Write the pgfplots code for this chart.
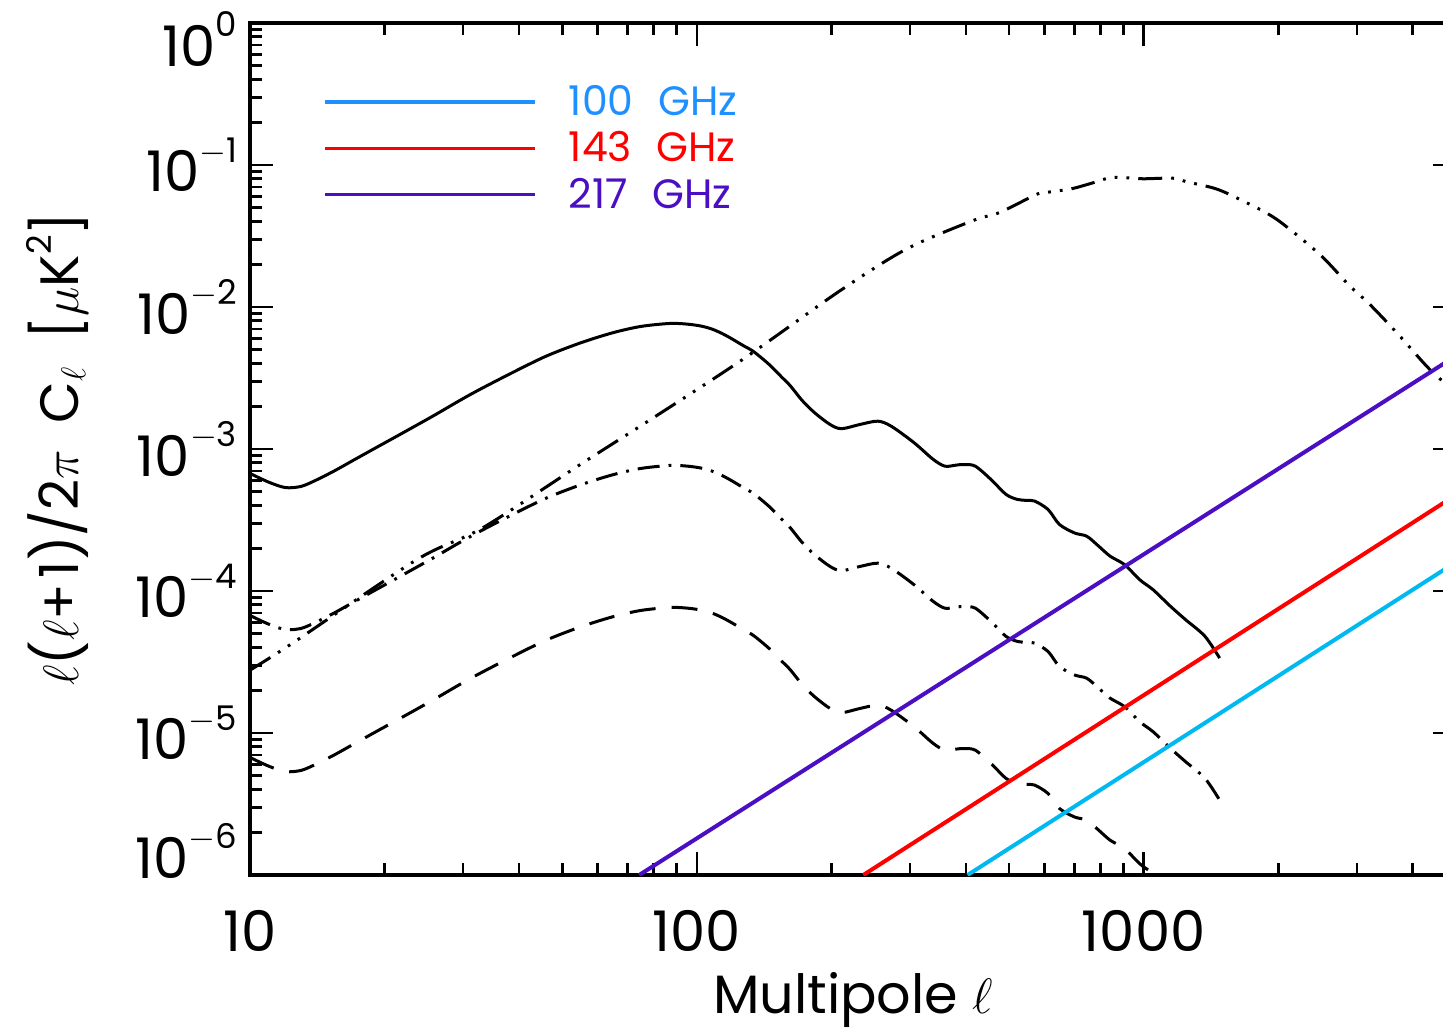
\documentclass[border=0pt]{standalone}
\usepackage{pgfplots}
\pgfplotsset{compat=1.18}
\usepackage{fontspec}
\setmainfont{Poppins}

\definecolor{c100}{RGB}{30,144,255}
\definecolor{c100line}{RGB}{0,185,240}
\definecolor{c143}{RGB}{255,0,0}
\definecolor{c217}{RGB}{75,15,195}

% y tick label: 10^{e}, set in the text font
\newcommand{\ylab}[1]{%
  \pgfmathparse{round(#1)}\pgfmathtruncatemacro\e{\pgfmathresult}%
  \def\body{10\raisebox{0.52em}{\fontsize{17}{17}\selectfont\ifnum\e<0 $-$\number-\e\else\e\fi}}%
  \ifnum\e=0 \raisebox{-8pt}[\height][\depth]{\body}%
  \else\ifnum\e=-6 \raisebox{12pt}[\height][\depth]{\body}%
  \else\body\fi\fi}

\begin{document}
\begin{tikzpicture}
\begin{axis}[
  scale only axis, width=603pt, height=426pt,
  xmode=log, ymode=log, log basis x=10, log basis y=10,
  xmin=10, xmax=5000, ymin=1e-6, ymax=1,
  axis line style={line width=1.8pt},
  every tick/.style={black, line width=1.3pt},
  major tick length=11.5pt, minor tick length=6pt,
  tick align=inside,
  xticklabels={10,100,1000},
  yticklabel={\ylab{\tick}},
  tick label style={font=\fontsize{28}{32}\selectfont},
  xticklabel style={yshift=-14pt},
  yticklabel style={xshift=-3pt},
  xlabel={Multipole $\ell$},
  ylabel={$\ell$($\ell$+\hspace{0.1em}1)/2$\pi$\hspace{0.5em}C$_{\ell}$\hspace{0.5em}[$\mu$K\raisebox{0.5em}{\fontsize{17}{17}\selectfont 2}]},
  label style={font=\fontsize{27}{32}\selectfont},
  xlabel style={at={(axis description cs:0.5,-0.163)}, anchor=base},
  ylabel style={at={(axis description cs:-0.16,0.5)}, anchor=center},
  legend style={at={(axis description cs:0.0605,0.927)}, anchor=north west,
    draw=none, fill=none, inner sep=0pt, row sep=6.5pt, column sep=16pt,
    font=\fontsize{20.5}{24}\selectfont, nodes={inner sep=0pt}},
  legend cell align=left,
  legend image code/.code={\draw[#1] (0pt,0pt) -- (105pt,0pt);},
]

% legend entries (colours as in the key)
\addlegendimage{c100, line width=1.8pt}
\addlegendentry{\textcolor{c100}{100\hspace{0.6em}GHz}}
\addlegendimage{c143, line width=1.8pt}
\addlegendentry{\textcolor{c143}{143\hspace{0.6em}GHz}}
\addlegendimage{c217, line width=1.8pt}
\addlegendentry{\textcolor{c217}{217\hspace{0.6em}GHz}}

% solid spectrum
\addplot[black, line width=1.5pt, smooth, forget plot] table {
x y
10 6.73e-4
11 5.85e-4
12 5.35e-4
13 5.45e-4
14 6.0e-4
15.4 6.98e-4
17 8.3e-4
18.2 9.35e-4
19.5 1.055e-3
21.7 1.27e-3
25.7 1.71e-3
29.5 2.20e-3
32.7 2.63e-3
39 3.5e-3
46.1 4.52e-3
55 5.6e-3
65 6.6e-3
75 7.3e-3
87 7.66e-3
95 7.58e-3
102 7.35e-3
108 7.0e-3
114 6.5e-3
120 5.95e-3
127 5.35e-3
134 4.85e-3
145 3.95e-3
155 3.2e-3
162 2.78e-3
172 2.2e-3
183.5 1.80e-3
198.6 1.49e-3
210.6 1.39e-3
232 1.49e-3
254 1.57e-3
272 1.45e-3
306 1.11e-3
338 8.45e-4
359 7.57e-4
380 7.7e-4
396 7.78e-4
420 7.57e-4
455 6.11e-4
492 4.79e-4
521 4.42e-4
545 4.35e-4
570 4.30e-4
611 3.75e-4
648 2.94e-4
701 2.56e-4
746 2.43e-4
793 2.07e-4
841 1.76e-4
907 1.53e-4
980 1.20e-4
1050 1.02e-4
1148 7.8e-5
1241 6.28e-5
1371 4.8e-5
1479 3.37e-5
};

% dash-dot: one tenth
\addplot[black, line width=1.5pt, smooth, forget plot,
  dash pattern=on 11pt off 4.5pt on 1.4pt off 4.5pt] table {
x y
10 6.73e-5
11 5.85e-5
12 5.35e-5
13 5.45e-5
14 6.0e-5
15.4 6.98e-5
17 8.3e-5
18.2 9.35e-5
19.5 1.055e-4
21.7 1.27e-4
25.7 1.71e-4
29.5 2.20e-4
32.7 2.63e-4
39 3.5e-4
46.1 4.52e-4
55 5.6e-4
65 6.6e-4
75 7.3e-4
87 7.66e-4
95 7.58e-4
102 7.35e-4
108 7.0e-4
114 6.5e-4
120 5.95e-4
127 5.35e-4
134 4.85e-4
145 3.95e-4
155 3.2e-4
162 2.78e-4
172 2.2e-4
183.5 1.80e-4
198.6 1.49e-4
210.6 1.39e-4
232 1.49e-4
254 1.57e-4
272 1.45e-4
306 1.11e-4
338 8.45e-5
359 7.57e-5
380 7.7e-5
396 7.78e-5
420 7.57e-5
455 6.11e-5
492 4.79e-5
521 4.42e-5
545 4.35e-5
570 4.30e-5
611 3.75e-5
648 2.94e-5
701 2.56e-5
746 2.43e-5
793 2.07e-5
841 1.76e-5
907 1.53e-5
980 1.20e-5
1050 1.02e-5
1148 7.8e-6
1241 6.28e-6
1371 4.8e-6
1479 3.37e-6
};

% dashed: one hundredth
\addplot[black, line width=1.5pt, smooth, forget plot,
  dash pattern=on 13pt off 8pt] table {
x y
10 6.73e-6
11 5.85e-6
12 5.35e-6
13 5.45e-6
14 6.0e-6
15.4 6.98e-6
17 8.3e-6
18.2 9.35e-6
19.5 1.055e-5
21.7 1.27e-5
25.7 1.71e-5
29.5 2.20e-5
32.7 2.63e-5
39 3.5e-5
46.1 4.52e-5
55 5.6e-5
65 6.6e-5
75 7.3e-5
87 7.66e-5
95 7.58e-5
102 7.35e-5
108 7.0e-5
114 6.5e-5
120 5.95e-5
127 5.35e-5
134 4.85e-5
145 3.95e-5
155 3.2e-5
162 2.78e-5
172 2.2e-5
183.5 1.80e-5
198.6 1.49e-5
210.6 1.39e-5
232 1.49e-5
254 1.57e-5
272 1.45e-5
306 1.11e-5
338 8.45e-6
359 7.57e-6
380 7.7e-6
396 7.78e-6
420 7.57e-6
455 6.11e-6
492 4.79e-6
521 4.42e-6
545 4.35e-6
570 4.30e-6
611 3.75e-6
648 2.94e-6
701 2.56e-6
746 2.43e-6
793 2.07e-6
841 1.76e-6
907 1.53e-6
980 1.20e-6
1050 1.02e-6
1148 7.8e-7
1241 6.28e-7
};

% dash-triple-dot spectrum
\addplot[black, line width=1.5pt, smooth, forget plot,
  dash pattern=on 12pt off 4.5pt on 1.4pt off 4.5pt on 1.4pt off 4.5pt on 1.4pt off 4.5pt] table {
x y
10 2.77e-5
12.5 4.33e-5
23.6 1.66e-4
33.2 2.79e-4
55.6 8.0e-4
78.5 1.6e-3
127 4.3e-3
209 1.3e-2
294.5 2.56e-2
414 4.05e-2
476 4.63e-2
575 6.2e-2
606 6.41e-2
689 6.8e-2
760 7.4e-2
853 8.18e-2
995 8.0e-2
1161 8.08e-2
1248 7.62e-2
1455 6.78e-2
1665 5.6e-2
1981 4.16e-2
2476 2.35e-2
2890 1.41e-2
3200 1.05e-2
3700 6.5e-3
4365 3.64e-3
5000 2.5e-3
};

% foreground lines
\addplot[c217, line width=2pt, forget plot] table {
x y
74.3 1e-6
5000 4.53e-3
};
\addplot[c143, line width=2pt, forget plot] table {
x y
235.8 1e-6
5000 4.75e-4
};
\addplot[c100line, line width=2pt, forget plot] table {
x y
403.6 1e-6
5000 1.6e-4
};

\end{axis}
\pgfresetboundingbox
\path ([xshift=-125pt,yshift=-77.5pt]current axis.south west)
  rectangle ([xshift=-6.5pt,yshift=11.5pt]current axis.north east);
\end{tikzpicture}
\end{document}
